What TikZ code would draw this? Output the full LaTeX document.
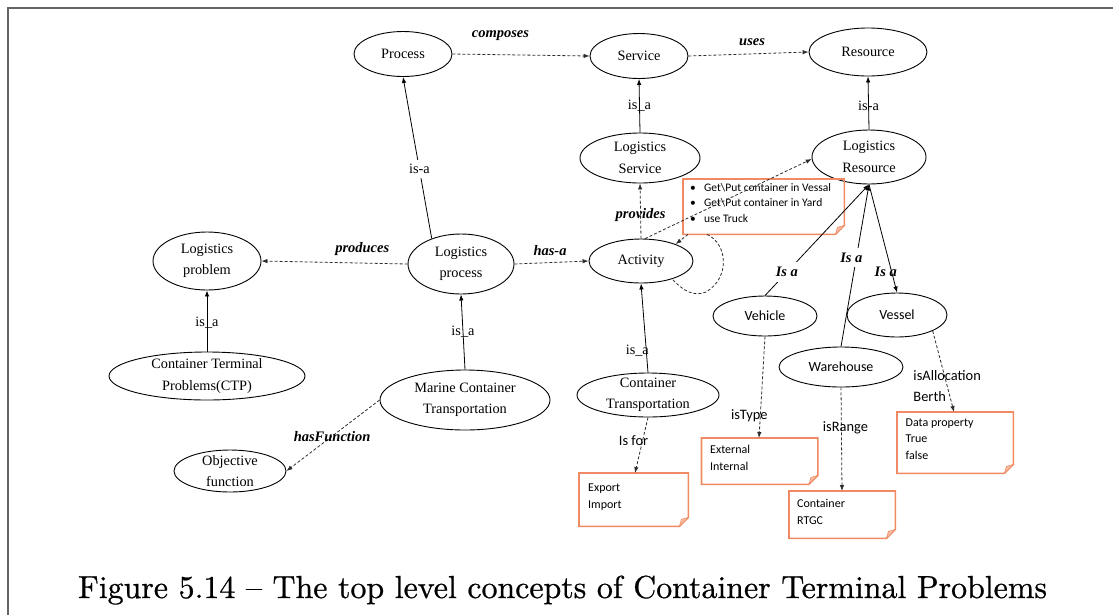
\documentclass[tikz,border=0pt]{standalone}
\usepackage{fontspec}
\usepackage{graphicx}
\usetikzlibrary{shapes.geometric,arrows.meta,calc}
\newfontfamily\tnrfont{Liberation Serif}
\newfontfamily\calfont{Carlito}
\newfontfamily\capfont{lmroman10-regular.otf}[FakeBold=0.7]
\definecolor{noteor}{RGB}{240,138,98}
\definecolor{notefold}{RGB}{247,190,165}
\definecolor{dashc}{RGB}{45,45,45}
\definecolor{framec}{RGB}{100,100,100}
\newcommand\notebox[7]{\parbox[t][#2][t]{#1}{\calfont\fontsize{#7}{#4}\selectfont\leftskip=#5\relax\rule{0pt}{#3}#6}}
\newcommand\foldbox[1]{%
  \draw[notebd] (#1.north west) -- (#1.north east) -- ([yshift=9pt]#1.south east) -- ([xshift=-9pt]#1.south east) -- (#1.south west) -- cycle;
  \filldraw[fill=notefold, draw=noteor, line width=0.6pt] ([yshift=9pt]#1.south east) -- ([xshift=-9pt]#1.south east) -- ([xshift=-7pt,yshift=7pt]#1.south east) -- cycle;}
\tikzset{
  ell/.style={ellipse, draw, line width=0.9pt, inner sep=-6pt, align=center,
    font=\tnrfont\fontsize{14.3}{21.5}\selectfont},
  ells/.style={ell, font=\calfont\fontsize{14}{17}\selectfont},
  isa/.style={-{Latex[length=6pt,width=4.5pt]}, line width=0.8pt},
  rel/.style={-{Latex[length=6pt,width=4.5pt]}, line width=0.8pt, dashc, dash pattern=on 3pt off 2pt},
  bl/.style={font=\tnrfont\bfseries\itshape\fontsize{14.5}{17}\selectfont, text=black},
  rl/.style={font=\tnrfont\fontsize{14.3}{17}\selectfont, text=black},
  cl/.style={font=\calfont\fontsize{14.4}{21}\selectfont, text=black, align=left},
  notebd/.style={draw=noteor, line width=1.6pt, line join=miter},
  notenode/.style={inner sep=0pt, anchor=north west},
}
\begin{document}
\begin{tikzpicture}[x=1pt, y=-1pt]
\useasboundingbox (0,0) rectangle (1113,614);
\draw[framec, line width=2pt] (8,616) -- (8,8) -- (1115,8);

% concept nodes
\node[ell, minimum width=98pt, minimum height=45pt] (proc) at (403,54) {Process};
\node[ell, minimum width=98pt, minimum height=45pt] (serv) at (639,56) {Service};
\node[ell, minimum width=118pt, minimum height=48pt] (res) at (868,52) {Resource};
\node[ell, minimum width=120pt, minimum height=50pt] (lserv) at (640,158) {Logistics\\Service};
\node[ell, minimum width=114pt, minimum height=54pt] (lres) at (869,157) {Logistics\\Resource};
\node[ell, minimum width=104pt, minimum height=44pt] (act) at (641,261) {Activity};
\node[ell, minimum width=108pt, minimum height=58pt] (lprob) at (207,261) {Logistics\\problem};
\node[ell, minimum width=106pt, minimum height=60pt] (lproc) at (461,264) {Logistics\\process};
\node[ell, minimum width=196pt, minimum height=48pt] (ctp) at (207,376) {Container Terminal\\Problems(CTP)};
\node[ell, minimum width=170pt, minimum height=60pt] (mct) at (465,400) {Marine Container\\Transportation};
\node[ell, minimum width=112pt, minimum height=42pt] (obj) at (230,471) {Objective\\function};
\node[ell, minimum width=142pt, minimum height=44pt] (ct) at (648,395) {Container\\Transportation};
\node[ells, minimum width=104pt, minimum height=40pt] (veh) at (765,316) {Vehicle};
\node[ells, minimum width=100pt, minimum height=44pt] (ves) at (897,315) {Vessel};
\node[ells, minimum width=124pt, minimum height=40pt] (ware) at (841,367) {Warehouse};

% note boxes
\node[notenode] (n1) at (683,179) {\notebox{161pt}{55pt}{12pt}{15.5pt}{7pt}{\makebox[14pt][l]{•}Get\textbackslash Put container in Vessal\\\makebox[14pt][l]{•}Get\textbackslash Put container in Yard\\\makebox[14pt][l]{•}use Truck}{11.5}};
\node[notenode] (n2) at (579,473) {\notebox{109pt}{53pt}{18pt}{17pt}{9pt}{Export\\Import}{12}};
\node[notenode] (n3) at (701.5,438) {\notebox{116pt}{46pt}{15pt}{17pt}{8.5pt}{External\\Internal}{12}};
\node[notenode] (n4) at (789,491) {\notebox{106pt}{47pt}{16pt}{17pt}{8pt}{Container\\RTGC}{12}};
\node[notenode] (n5) at (897,412) {\notebox{116pt}{61pt}{14pt}{16.5pt}{8.5pt}{Data property\\True\\false}{12}};
\foldbox{n1}\foldbox{n2}\foldbox{n3}\foldbox{n4}\foldbox{n5}

% relations
\draw[rel] (proc.east) -- node[bl, pos=.35, yshift=19pt] {composes} (serv.west);
\draw[rel] (serv.east) -- node[bl, pos=.53, yshift=12pt] {uses} (res.west);
\draw[isa] (lserv.north) -- node[rl, pos=.5] {is\_a} (serv.south);
\draw[isa] (lres.north) -- node[rl, pos=.45] {is-a} (res.south);
\draw[rel] (act.north) -- node[bl, pos=.43] {provides} (lserv.south);
\draw[isa] (lproc.139) -- node[rl, pos=.43, fill=white, inner sep=4pt] {is-a} (proc.south);
\draw[rel] (lproc.west) -- node[bl, pos=.31, yshift=14pt] {produces} (lprob.east);
\draw[rel] (lproc.east) -- node[bl, pos=.48, yshift=12pt] {has-a} (act.west);
\draw[isa] (ctp.north) -- node[rl, pos=.48] {is\_a} (lprob.south);
\draw[isa] (mct.north) -- node[rl, pos=.5] {is\_a} (lproc.south);
\draw[rel] (mct.west) -- node[bl, pos=.51] {hasFunction} (obj.east);
\draw[isa] (ct.north) -- node[rl, pos=.24, xshift=-9pt] {is\_a} (act.south);
\draw[rel] (act.80) -- (lres.182);
\draw[rel] ([xshift=5pt]n1.south west) -- (act.26);
\draw[dashc, line width=0.8pt, dash pattern=on 3pt off 2pt] ([xshift=24pt]n1.south west) .. controls (728,244) and (730,278) .. (706,292) .. controls (694,297) and (683,291) .. (act.-30);
\draw[isa] (veh.north) -- node[bl, pos=.21, fill=white, inner sep=5pt] {Is a} (lres.south);
\draw[isa] (ware.north) -- node[bl, pos=.55, xshift=-5pt, fill=white, inner sep=5pt] {Is a} (lres.south);
\draw[isa] (lres.south) -- node[bl, pos=.81, xshift=-6pt] {Is a} (ves.north);
\draw[rel] (ct.south) -- node[cl, pos=.42, xshift=-9pt] {Is for} ([xshift=56pt]n2.north west);
\draw[rel] (veh.south) -- node[cl, pos=.78, xshift=-11pt] {isType} ([xshift=57.5pt]n3.north west);
\draw[rel] (ware.south) -- node[cl, pos=.39, xshift=4pt] {isRange} ([xshift=53pt]n4.north west);
\draw[rel] (ves.-24) -- node[cl, pos=.68] {isAllocation\\Berth} ([xshift=57pt]n5.north west);

% caption
\node[anchor=base, font=\capfont\fontsize{31}{36}\selectfont] (cap) at (562.5,598) {\resizebox{969pt}{!}{Figure 5.14 – The top level concepts of Container Terminal Problems}};
\end{tikzpicture}
\end{document}
